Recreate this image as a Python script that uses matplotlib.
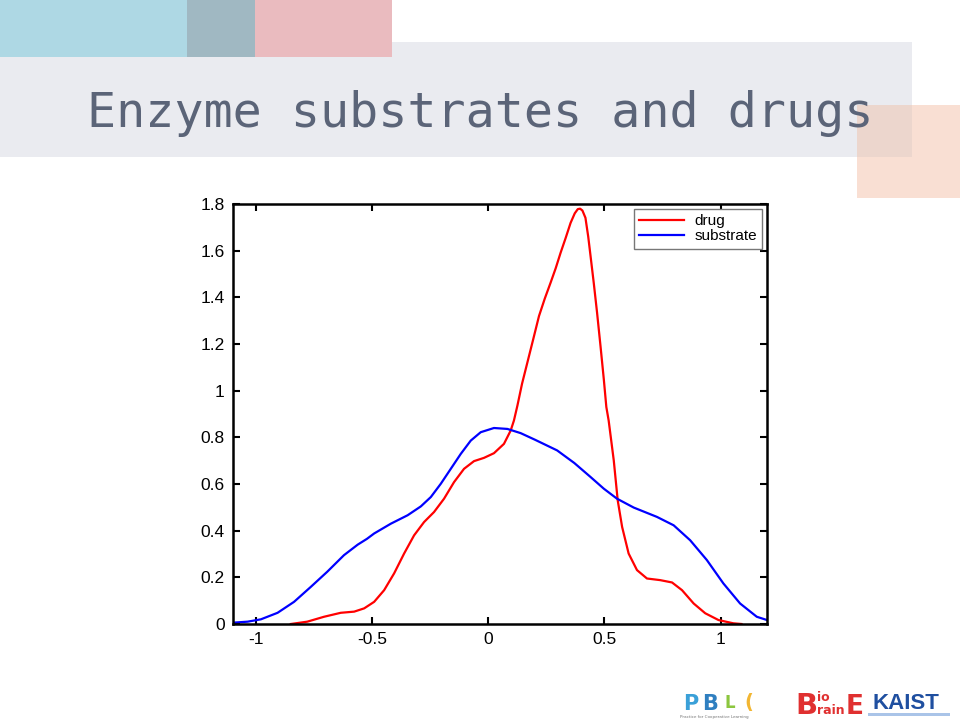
import matplotlib.pyplot as plt
from matplotlib.patches import Rectangle

# values
drug_x = [-0.851, -0.78, -0.708, -0.636, -0.578, -0.535, -0.492, -0.449, -0.406, -0.363,
          -0.32, -0.277, -0.234, -0.191, -0.148, -0.105, -0.062, -0.019, 0.024, 0.067,
          0.096, 0.11, 0.125, 0.145, 0.168, 0.193, 0.218, 0.243, 0.268, 0.29, 0.311,
          0.333, 0.354, 0.372, 0.385, 0.395, 0.405, 0.418, 0.43, 0.44, 0.454, 0.468,
          0.483, 0.497, 0.508, 0.518, 0.54, 0.557, 0.576, 0.604, 0.64, 0.683, 0.74,
          0.791, 0.834, 0.884, 0.934, 0.991, 1.055, 1.09]
drug_y = [0.0, 0.01, 0.031, 0.048, 0.053, 0.067, 0.095, 0.145, 0.217, 0.302,
          0.38, 0.437, 0.48, 0.537, 0.608, 0.665, 0.698, 0.712, 0.732, 0.772,
          0.829, 0.872, 0.936, 1.03, 1.121, 1.22, 1.32, 1.395, 1.463, 1.525, 1.591,
          1.655, 1.719, 1.76, 1.778, 1.78, 1.772, 1.741, 1.66, 1.577, 1.46, 1.335,
          1.19, 1.05, 0.93, 0.872, 0.701, 0.53, 0.416, 0.302, 0.231, 0.195, 0.188,
          0.178, 0.145, 0.088, 0.046, 0.017, 0.003, 0.0]

sub_x = [-1.095, -1.037, -0.98, -0.908, -0.837, -0.765, -0.694, -0.622, -0.563, -0.523,
         -0.492, -0.42, -0.348, -0.291, -0.248, -0.205, -0.162, -0.119, -0.076, -0.033,
         0.024, 0.082, 0.139, 0.2, 0.296, 0.37, 0.44, 0.497, 0.554, 0.626, 0.726,
         0.798, 0.869, 0.941, 1.012, 1.084, 1.156, 1.2]
sub_y = [0.006, 0.01, 0.02, 0.048, 0.095, 0.159, 0.224, 0.295, 0.34, 0.365,
         0.388, 0.43, 0.466, 0.504, 0.544, 0.601, 0.665, 0.729, 0.786, 0.822,
         0.84, 0.836, 0.818, 0.79, 0.744, 0.69, 0.63, 0.58, 0.537, 0.499, 0.459,
         0.423, 0.359, 0.274, 0.174, 0.088, 0.031, 0.017]

xticks = [-1, -0.5, 0, 0.5, 1]
xlabels = ["-1", "-0.5", "0", "0.5", "1"]
yticks = [0, 0.2, 0.4, 0.6, 0.8, 1, 1.2, 1.4, 1.6, 1.8]
ylabels = ["0", "0.2", "0.4", "0.6", "0.8", "1", "1.2", "1.4", "1.6", "1.8"]

fig = plt.figure(figsize=(9.6, 7.2), dpi=100)

def box(x0, y0, x1, y1, c):
    # pixel box -> figure coords
    fig.patches.append(Rectangle((x0 / 960, 1 - y1 / 720), (x1 - x0) / 960, (y1 - y0) / 720,
                                 transform=fig.transFigure, color=c, lw=0, zorder=0))

box(0, 42, 912, 157, "#eaebf0")
box(857, 105, 960, 198, "#f9dfd3")
box(857, 105, 912, 157, "#ecd6cd")
box(0, 0, 187, 57, "#aed8e4")
box(187, 0, 255, 57, "#a0b8c2")
box(255, 0, 392, 57, "#eabbbf")

fig.text(87 / 960, 1 - 127 / 720, "Enzyme substrates and drugs", family="DejaVu Sans Mono",
         fontsize=34.8, color="#5b6478", va="baseline", ha="left")

# logos as text
fig.text(683 / 960, 1 - 710 / 720, "P", color="#3aa0d8", fontsize=15, fontweight="bold", va="baseline")
fig.text(702 / 960, 1 - 710 / 720, "B", color="#2f7fc0", fontsize=15, fontweight="bold", va="baseline")
fig.text(724 / 960, 1 - 708 / 720, "L", color="#8cc63f", fontsize=12, fontweight="bold", va="baseline")
fig.text(744 / 960, 1 - 708 / 720, "(", color="#f2b632", fontsize=14, fontweight="bold", va="baseline")
fig.text(680 / 960, 1 - 718 / 720, "Practice for Cooperative Learning", color="#777777",
         fontsize=3, va="baseline")
fig.text(795 / 960, 1 - 714 / 720, "B", color="#e03030", fontsize=21, fontweight="bold", va="baseline")
fig.text(817 / 960, 1 - 701 / 720, "io", color="#e03030", fontsize=9, fontweight="bold", va="baseline")
fig.text(817 / 960, 1 - 714 / 720, "rain", color="#e03030", fontsize=9, fontweight="bold", va="baseline")
fig.text(846 / 960, 1 - 714 / 720, "E", color="#e03030", fontsize=19, fontweight="bold", va="baseline")
fig.text(872 / 960, 1 - 709 / 720, "KAIST", color="#1f4fa0", fontsize=16, fontweight="bold",
         family="Liberation Sans", va="baseline")
box(868, 713, 950, 716, "#aac4e8")

ax = fig.add_axes([233 / 960, 96 / 720, 534 / 960, 420 / 720])
ax.plot(drug_x, drug_y, color="#ff0000", lw=1.6, label="drug")
ax.plot(sub_x, sub_y, color="#0000ff", lw=1.6, label="substrate")

ax.set_xlim(-1.1, 1.2)
ax.set_ylim(0, 1.8)
ax.set_xticks(xticks)
ax.set_xticklabels(xlabels)
ax.set_yticks(yticks)
ax.set_yticklabels(ylabels)
ax.tick_params(direction="in", top=True, right=True, length=5, width=1.5,
               labelsize=12.5, pad=6)
for lab in ax.get_xticklabels() + ax.get_yticklabels():
    lab.set_family("Liberation Sans")
for s in ax.spines.values():
    s.set_linewidth(1.8)

leg = ax.legend(loc="upper right", prop={"family": "Liberation Sans", "size": 11},
                fancybox=False, framealpha=1, edgecolor="#777777", borderpad=0.35,
                labelspacing=0.1, handlelength=2.9, handletextpad=0.7,
                borderaxespad=0.3)
leg.get_frame().set_linewidth(1.0)

fig.savefig("out.png", dpi=100)
